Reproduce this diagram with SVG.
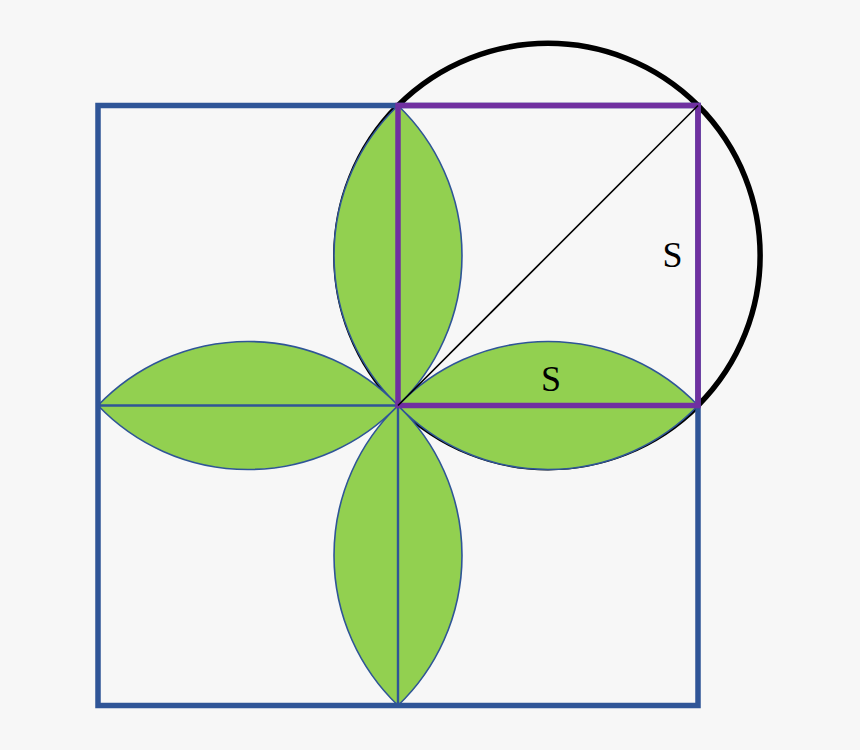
<svg xmlns="http://www.w3.org/2000/svg" width="860" height="750" viewBox="0 0 860 750">
<style>
.petal{fill:#92D050;stroke:#2F5597;stroke-width:1.6}
.thin{stroke:#2F5597;stroke-width:2.4;fill:none}
.lbl{font-family:"Liberation Serif","Times New Roman",serif;font-size:36px;fill:#000;text-anchor:middle}
</style>
<rect width="860" height="750" fill="#F7F7F7"/>
<g id="circle">
<circle cx="548" cy="255.5" r="212.13" fill="none" stroke="#000" stroke-width="5.5"/>
</g>
<g id="petals">
<path class="petal" d="M398,105.5 A207.8,207.8 0 0 1 398,405.5 A207.8,207.8 0 0 1 398,105.5 Z"/>
<path class="petal" d="M398,405.5 A207.8,207.8 0 0 1 398,705.5 A207.8,207.8 0 0 1 398,405.5 Z"/>
<path class="petal" d="M98,405.5 A207.8,207.8 0 0 1 398,405.5 A207.8,207.8 0 0 1 98,405.5 Z"/>
<path class="petal" d="M398,405.5 A207.8,207.8 0 0 1 698,405.5 A207.8,207.8 0 0 1 398,405.5 Z"/>
</g>
<g id="connectors">
<line class="thin" x1="98" y1="405.5" x2="398" y2="405.5"/>
<line class="thin" x1="398" y1="405.5" x2="398" y2="705.5"/>
</g>
<g id="big-square">
<rect x="98" y="105.5" width="600" height="600" fill="none" stroke="#2F5597" stroke-width="5.5"/>
</g>
<g id="small-square">
<rect x="398" y="105.5" width="300" height="300" fill="none" stroke="#7030A0" stroke-width="5.5"/>
</g>
<g id="diagonal">
<line x1="398" y1="405.5" x2="698" y2="105.5" stroke="#000" stroke-width="1.6"/>
</g>
<g id="labels">
<text class="lbl" x="672.5" y="267">S</text>
<text class="lbl" x="551" y="390.5">S</text>
</g>
</svg>
